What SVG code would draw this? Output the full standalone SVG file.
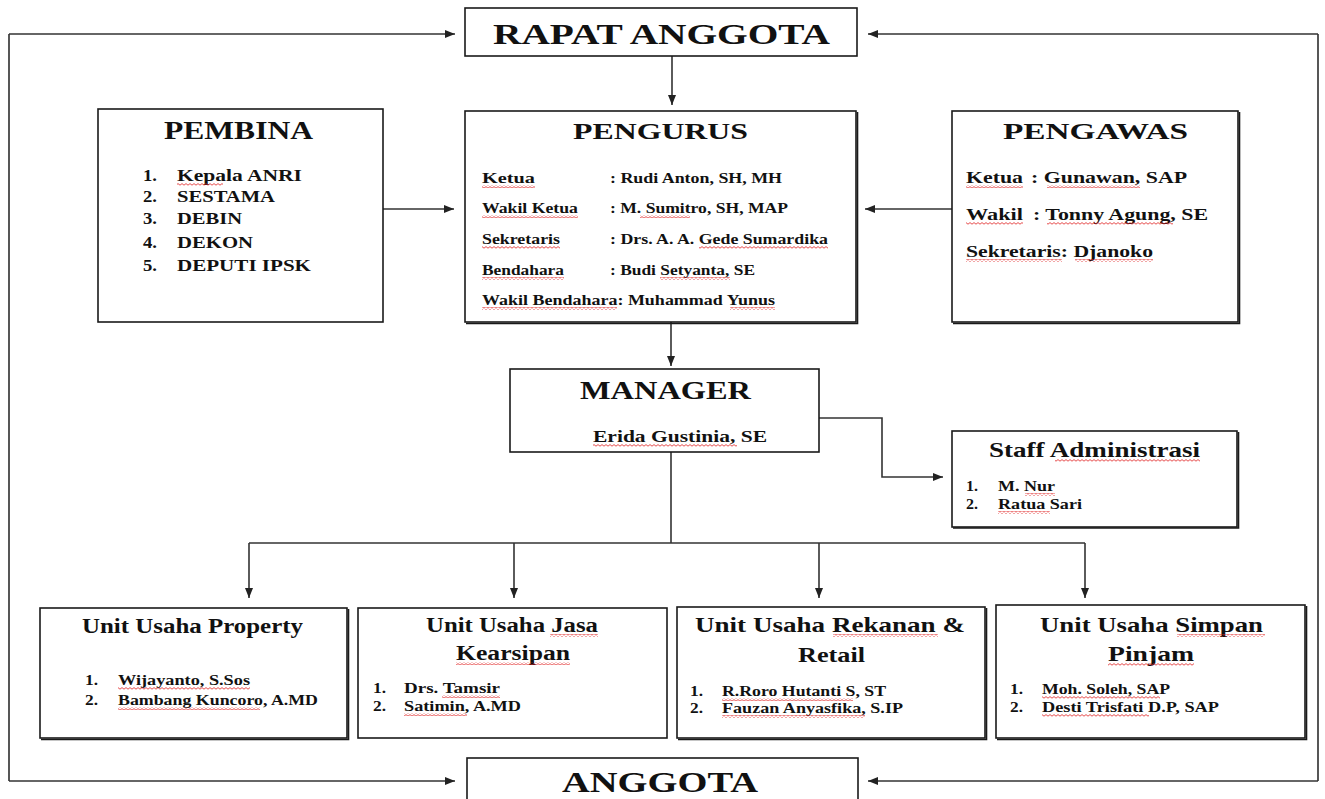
<svg xmlns="http://www.w3.org/2000/svg" width="1325" height="799" viewBox="0 0 1325 799">
<style>
  .box{fill:#fff;stroke:#1a1a1a;stroke-width:1.6}
  .sh{fill:none;stroke:#1a1a1a;stroke-width:1.6}
  .ln{fill:none;stroke:#333;stroke-width:1.6}
  .lp{fill:none;stroke:#444;stroke-width:1.8}
  text{font-family:"Liberation Serif","Times New Roman",serif;font-weight:bold;fill:#111}
  .sq{fill:url(#sq)}
</style>
<defs>
  <marker id="ah" markerUnits="userSpaceOnUse" markerWidth="10" markerHeight="8" refX="10" refY="4" orient="auto">
    <path d="M0,0 L10,4 L0,8 Z" fill="#222"/>
  </marker>
  <pattern id="sq" patternUnits="userSpaceOnUse" width="4" height="3">
    <path d="M0,2.2 L2,0.6 L4,2.2" fill="none" stroke="#e02020" stroke-width="0.8"/>
  </pattern>
</defs>

<g id="connectors">
  <polyline class="lp" points="1318,34 1318,781"/>
  <polyline class="lp" points="9,34 9,781"/>
  <line class="ln" x1="9" y1="34" x2="455" y2="34" marker-end="url(#ah)"/>
  <line class="ln" x1="1318" y1="34" x2="868" y2="34" marker-end="url(#ah)"/>
  <line class="ln" x1="9" y1="781" x2="455" y2="781" marker-end="url(#ah)"/>
  <line class="ln" x1="1318" y1="781" x2="868" y2="781" marker-end="url(#ah)"/>
  <line class="ln" x1="672" y1="56" x2="672" y2="105" marker-end="url(#ah)"/>
  <line class="ln" x1="383" y1="209" x2="454" y2="209" marker-end="url(#ah)"/>
  <line class="ln" x1="952" y1="209" x2="865" y2="209" marker-end="url(#ah)"/>
  <line class="ln" x1="671" y1="322" x2="671" y2="366" marker-end="url(#ah)"/>
  <polyline class="ln" points="819,418 882,418 882,477 943,477" marker-end="url(#ah)"/>
  <polyline class="ln" points="671,452 671,543"/>
  <polyline class="ln" points="249,543 1085,543"/>
  <line class="ln" x1="249" y1="543" x2="249" y2="598" marker-end="url(#ah)"/>
  <line class="ln" x1="514" y1="543" x2="514" y2="598" marker-end="url(#ah)"/>
  <line class="ln" x1="819" y1="543" x2="819" y2="598" marker-end="url(#ah)"/>
  <line class="ln" x1="1085" y1="543" x2="1085" y2="598" marker-end="url(#ah)"/>
</g>

<g id="rapat-anggota">
  <rect class="box" x="465" y="8" width="392" height="48"/>
  <text x="493" y="44" font-size="30" textLength="337" lengthAdjust="spacingAndGlyphs">RAPAT ANGGOTA</text>
</g>

<g id="pembina">
  <rect class="box" x="98" y="109" width="285" height="213"/>
  <text x="164" y="139" font-size="25" textLength="149" lengthAdjust="spacingAndGlyphs">PEMBINA</text>
  <g font-size="16">
    <text x="143" y="181" textLength="14" lengthAdjust="spacingAndGlyphs">1.</text>
    <text x="177" y="181" textLength="125" lengthAdjust="spacingAndGlyphs">Kepala ANRI</text>
    <text x="143" y="202" textLength="14" lengthAdjust="spacingAndGlyphs">2.</text>
    <text x="177" y="202" textLength="98" lengthAdjust="spacingAndGlyphs">SESTAMA</text>
    <text x="143" y="224" textLength="14" lengthAdjust="spacingAndGlyphs">3.</text>
    <text x="177" y="224" textLength="65" lengthAdjust="spacingAndGlyphs">DEBIN</text>
    <text x="143" y="248" textLength="14" lengthAdjust="spacingAndGlyphs">4.</text>
    <text x="177" y="248" textLength="76" lengthAdjust="spacingAndGlyphs">DEKON</text>
    <text x="143" y="271" textLength="14" lengthAdjust="spacingAndGlyphs">5.</text>
    <text x="177" y="271" textLength="134" lengthAdjust="spacingAndGlyphs">DEPUTI IPSK</text>
  </g>
  <rect class="sq" x="177" y="183" width="46" height="3"/>
</g>

<g id="pengurus">
  <rect class="box" x="465" y="111" width="391" height="211"/>
  <polyline class="sh" points="857.5,112 857.5,323.5 466,323.5"/>
  <text x="573" y="139" font-size="24" textLength="175" lengthAdjust="spacingAndGlyphs">PENGURUS</text>
  <g font-size="14">
    <text x="482" y="183" textLength="53" lengthAdjust="spacingAndGlyphs">Ketua</text>
    <text x="610" y="183" textLength="172" lengthAdjust="spacingAndGlyphs">:  Rudi Anton, SH, MH</text>
    <text x="482" y="213" textLength="96" lengthAdjust="spacingAndGlyphs">Wakil Ketua</text>
    <text x="610" y="213" textLength="178" lengthAdjust="spacingAndGlyphs">: M. Sumitro, SH, MAP</text>
    <text x="482" y="244" textLength="78" lengthAdjust="spacingAndGlyphs">Sekretaris</text>
    <text x="610" y="244" textLength="218" lengthAdjust="spacingAndGlyphs">: Drs. A. A. Gede Sumardika</text>
    <text x="482" y="275" textLength="82" lengthAdjust="spacingAndGlyphs">Bendahara</text>
    <text x="610" y="275" textLength="145" lengthAdjust="spacingAndGlyphs">: Budi Setyanta, SE</text>
    <text x="482" y="305" textLength="293" lengthAdjust="spacingAndGlyphs">Wakil Bendahara: Muhammad Yunus</text>
  </g>
  <rect class="sq" x="482" y="185" width="53" height="3"/>
  <rect class="sq" x="482" y="215" width="96" height="3"/>
  <rect class="sq" x="640" y="215" width="50" height="3"/>
  <rect class="sq" x="482" y="246" width="78" height="3"/>
  <rect class="sq" x="699" y="246" width="129" height="3"/>
  <rect class="sq" x="482" y="277" width="82" height="3"/>
  <rect class="sq" x="660" y="277" width="70" height="3"/>
  <rect class="sq" x="482" y="307" width="135" height="3"/>
  <rect class="sq" x="730" y="307" width="45" height="3"/>
</g>

<g id="pengawas">
  <rect class="box" x="952" y="111" width="286" height="211"/>
  <polyline class="sh" points="1239.5,112 1239.5,323.5 953,323.5"/>
  <text x="1003" y="139" font-size="24" textLength="185" lengthAdjust="spacingAndGlyphs">PENGAWAS</text>
  <g font-size="16">
    <text x="966" y="183" textLength="57" lengthAdjust="spacingAndGlyphs">Ketua</text>
    <text x="1031" y="183" textLength="156" lengthAdjust="spacingAndGlyphs">: Gunawan, SAP</text>
    <text x="966" y="220" textLength="57" lengthAdjust="spacingAndGlyphs">Wakil</text>
    <text x="1033" y="220" textLength="175" lengthAdjust="spacingAndGlyphs">: Tonny Agung, SE</text>
    <text x="966" y="257" textLength="187" lengthAdjust="spacingAndGlyphs">Sekretaris: Djanoko</text>
  </g>
  <rect class="sq" x="966" y="185" width="57" height="3"/>
  <rect class="sq" x="1047" y="185" width="93" height="3"/>
  <rect class="sq" x="966" y="222" width="57" height="3"/>
  <rect class="sq" x="1047" y="222" width="126" height="3"/>
  <rect class="sq" x="966" y="259" width="96" height="3"/>
  <rect class="sq" x="1075" y="259" width="78" height="3"/>
</g>

<g id="manager">
  <rect class="box" x="510" y="369" width="309" height="83"/>
  <text x="580" y="399" font-size="26" textLength="171" lengthAdjust="spacingAndGlyphs">MANAGER</text>
  <text x="593" y="442" font-size="16" textLength="174" lengthAdjust="spacingAndGlyphs">Erida Gustinia, SE</text>
  <rect class="sq" x="593" y="444" width="144" height="3"/>
</g>

<g id="staff-administrasi">
  <rect class="box" x="952" y="431" width="285" height="96"/>
  <polyline class="sh" points="1238.5,432 1238.5,528 953,528"/>
  <text x="989" y="457" font-size="21" textLength="211" lengthAdjust="spacingAndGlyphs">Staff Administrasi</text>
  <g font-size="14">
    <text x="966" y="491" textLength="12" lengthAdjust="spacingAndGlyphs">1.</text>
    <text x="998" y="491" textLength="57" lengthAdjust="spacingAndGlyphs">M. Nur</text>
    <text x="966" y="509" textLength="12" lengthAdjust="spacingAndGlyphs">2.</text>
    <text x="998" y="509" textLength="84" lengthAdjust="spacingAndGlyphs">Ratua Sari</text>
  </g>
  <rect class="sq" x="1055" y="459" width="145" height="3"/>
  <rect class="sq" x="1025" y="493" width="30" height="3"/>
  <rect class="sq" x="998" y="511" width="52" height="3"/>
</g>

<g id="unit-property">
  <rect class="box" x="40" y="608" width="307" height="130"/>
  <polyline class="sh" points="348.5,609 348.5,739.5 41,739.5"/>
  <text x="82" y="633" font-size="20" textLength="221" lengthAdjust="spacingAndGlyphs">Unit Usaha Property</text>
  <g font-size="14">
    <text x="85" y="685" textLength="13" lengthAdjust="spacingAndGlyphs">1.</text>
    <text x="118" y="685" textLength="132" lengthAdjust="spacingAndGlyphs">Wijayanto, S.Sos</text>
    <text x="85" y="705" textLength="13" lengthAdjust="spacingAndGlyphs">2.</text>
    <text x="118" y="705" textLength="200" lengthAdjust="spacingAndGlyphs">Bambang Kuncoro, A.MD</text>
  </g>
  <rect class="sq" x="118" y="687" width="132" height="3"/>
  <rect class="sq" x="118" y="707" width="142" height="3"/>
</g>

<g id="unit-jasa-kearsipan">
  <rect class="box" x="358" y="608" width="309" height="130"/>
  <text x="426" y="632" font-size="20" textLength="172" lengthAdjust="spacingAndGlyphs">Unit Usaha Jasa</text>
  <text x="456" y="660" font-size="20" textLength="114" lengthAdjust="spacingAndGlyphs">Kearsipan</text>
  <g font-size="14">
    <text x="373" y="693" textLength="13" lengthAdjust="spacingAndGlyphs">1.</text>
    <text x="404" y="693" textLength="96" lengthAdjust="spacingAndGlyphs">Drs. Tamsir</text>
    <text x="373" y="711" textLength="13" lengthAdjust="spacingAndGlyphs">2.</text>
    <text x="404" y="711" textLength="117" lengthAdjust="spacingAndGlyphs">Satimin, A.MD</text>
  </g>
  <rect class="sq" x="550" y="634" width="48" height="3"/>
  <rect class="sq" x="456" y="662" width="114" height="3"/>
  <rect class="sq" x="442" y="695" width="58" height="3"/>
  <rect class="sq" x="404" y="713" width="63" height="3"/>
</g>

<g id="unit-rekanan-retail">
  <rect class="box" x="677" y="607" width="308" height="131"/>
  <polyline class="sh" points="986.5,608 986.5,739.5 678,739.5"/>
  <text x="695" y="632" font-size="21" textLength="270" lengthAdjust="spacingAndGlyphs">Unit Usaha Rekanan &amp;</text>
  <text x="798" y="662" font-size="21" textLength="67" lengthAdjust="spacingAndGlyphs">Retail</text>
  <g font-size="14">
    <text x="690" y="696" textLength="13" lengthAdjust="spacingAndGlyphs">1.</text>
    <text x="722" y="696" textLength="164" lengthAdjust="spacingAndGlyphs">R.Roro Hutanti S, ST</text>
    <text x="690" y="713" textLength="13" lengthAdjust="spacingAndGlyphs">2.</text>
    <text x="722" y="713" textLength="181" lengthAdjust="spacingAndGlyphs">Fauzan Anyasfika, S.IP</text>
  </g>
  <rect class="sq" x="833" y="634" width="105" height="3"/>
  <rect class="sq" x="722" y="698" width="131" height="3"/>
  <rect class="sq" x="722" y="715" width="143" height="3"/>
</g>

<g id="unit-simpan-pinjam">
  <rect class="box" x="996" y="605" width="309" height="133"/>
  <polyline class="sh" points="1306.5,606 1306.5,739.5 997,739.5"/>
  <text x="1040" y="632" font-size="21" textLength="223" lengthAdjust="spacingAndGlyphs">Unit Usaha Simpan</text>
  <text x="1108" y="661" font-size="21" textLength="86" lengthAdjust="spacingAndGlyphs">Pinjam</text>
  <g font-size="14">
    <text x="1010" y="694" textLength="13" lengthAdjust="spacingAndGlyphs">1.</text>
    <text x="1042" y="694" textLength="128" lengthAdjust="spacingAndGlyphs">Moh. Soleh, SAP</text>
    <text x="1010" y="712" textLength="13" lengthAdjust="spacingAndGlyphs">2.</text>
    <text x="1042" y="712" textLength="177" lengthAdjust="spacingAndGlyphs">Desti Trisfati D.P, SAP</text>
  </g>
  <rect class="sq" x="1177" y="634" width="88" height="3"/>
  <rect class="sq" x="1108" y="663" width="86" height="3"/>
  <rect class="sq" x="1042" y="696" width="118" height="3"/>
  <rect class="sq" x="1042" y="714" width="107" height="3"/>
</g>

<g id="anggota">
  <rect class="box" x="467" y="758" width="391" height="60"/>
  <text x="562" y="792" font-size="29" textLength="196" lengthAdjust="spacingAndGlyphs">ANGGOTA</text>
</g>
</svg>
